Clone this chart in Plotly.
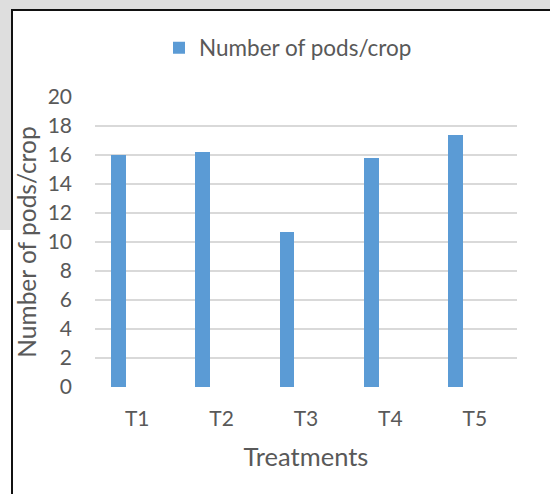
import plotly.graph_objects as go

# Data
treatments = ["T1", "T2", "T3", "T4", "T5"]
pods_per_crop = [16.0, 16.2, 10.7, 15.8, 17.4]
series_name = "Number of pods/crop"
y_ticks = [0, 2, 4, 6, 8, 10, 12, 14, 16, 18, 20]

W, H = 550, 494
# plot area in pixels
L, R, T, B = 95, 517, 97, 387

def px(x):
    return (x - L) / (R - L)

def py(y):
    return (B - y) / (B - T)

FONT = "Lato"
TXT = "#595959"

fig = go.Figure()
fig.add_trace(go.Bar(
    x=treatments,
    y=pods_per_crop,
    name=series_name,
    marker=dict(color="#5B9BD5", line=dict(width=0)),
    width=0.175,
    offset=-0.313,
    showlegend=True,
))

shapes = [
    # grey backdrop behind the chart frame
    dict(type="rect", xref="paper", yref="paper", layer="below",
         x0=px(-5), x1=px(560), y0=py(-5), y1=py(230),
         fillcolor="#dedede", line=dict(width=0)),
    # framed white chart box
    dict(type="rect", xref="paper", yref="paper", layer="below",
         x0=px(12), x1=px(570), y0=py(10), y1=py(520),
         fillcolor="white", line=dict(color="#111111", width=2)),
]

fig.update_layout(
    width=W, height=H,
    margin=dict(l=L, r=W - R, t=T, b=H - B, pad=0),
    paper_bgcolor="white",
    plot_bgcolor="rgba(0,0,0,0)",
    font=dict(family=FONT, color=TXT, size=21),
    shapes=shapes,
    showlegend=True,
    legend=dict(
        orientation="h",
        x=px(159), y=py(48), xanchor="left", yanchor="middle",
        font=dict(family=FONT, size=22.5, color=TXT),
        bgcolor="rgba(0,0,0,0)",
    ),
    xaxis=dict(
        range=[-0.5, 4.5],
        showgrid=False, zeroline=False, showline=False,
        ticks="", ticklabelstandoff=17,
        tickfont=dict(size=21, color=TXT),
        title=dict(text="Treatments", font=dict(size=25.5, color=TXT), standoff=19),
    ),
    yaxis=dict(
        range=[0, 20],
        tickvals=y_ticks,
        showgrid=True, gridcolor="#d9d9d9", gridwidth=1.6,
        zeroline=False, showline=False,
        ticks="", ticklabelstandoff=22,
        tickfont=dict(size=21, color=TXT),
        title=dict(text=series_name, font=dict(size=24.5, color=TXT), standoff=4),
    ),
    bargap=0,
)

fig.write_html("out.html")
